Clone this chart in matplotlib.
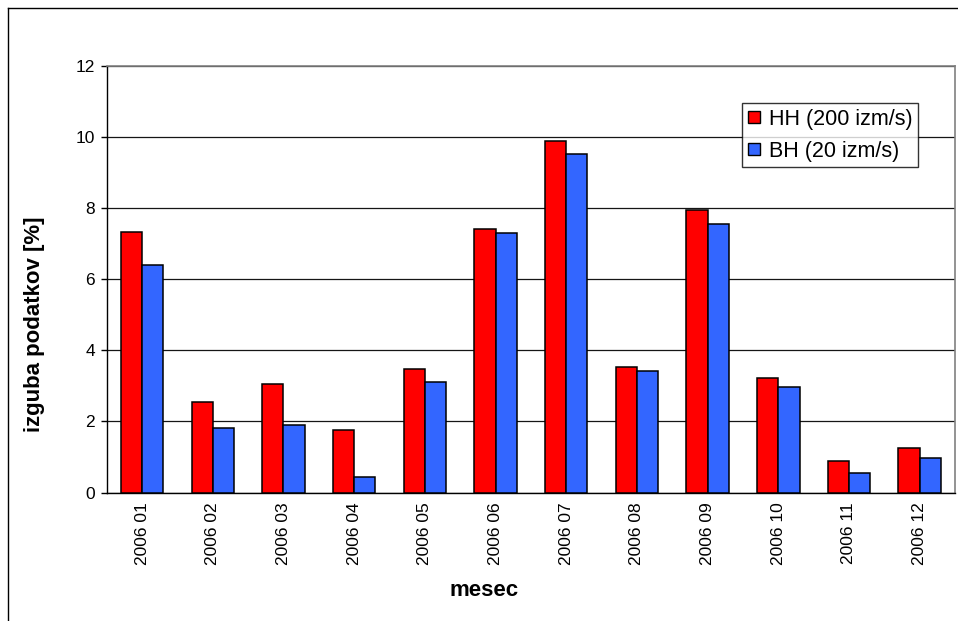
import matplotlib
matplotlib.use("Agg")
import matplotlib.pyplot as plt
import numpy as np
from matplotlib.lines import Line2D

months = ["2006 01", "2006 02", "2006 03", "2006 04", "2006 05", "2006 06",
          "2006 07", "2006 08", "2006 09", "2006 10", "2006 11", "2006 12"]
hh_loss = [7.32, 2.56, 3.06, 1.77, 3.48, 7.41, 9.88, 3.52, 7.95, 3.21, 0.90, 1.24]
bh_loss = [6.40, 1.82, 1.91, 0.45, 3.10, 7.31, 9.52, 3.42, 7.56, 2.97, 0.55, 0.96]
series_names = ["HH (200 izm/s)", "BH (20 izm/s)"]
series_colors = ['#FF0000', '#3366FF']
y_ticks = [0, 2, 4, 6, 8, 10, 12]

plt.rcParams['font.family'] = ['Liberation Sans', 'DejaVu Sans']

fig = plt.figure(figsize=(9.58, 6.21), dpi=100)
ax = fig.add_axes([0.1114, 0.2069, 0.8855, 0.6868])

x = np.arange(len(months))
w = 0.3
ax.bar(x - w / 2, hh_loss, w, color=series_colors[0], edgecolor='black', linewidth=1.1, zorder=3)
ax.bar(x + w / 2, bh_loss, w, color=series_colors[1], edgecolor='black', linewidth=1.1, zorder=3)

ax.set_xlim(-0.5, len(months) - 0.5)
ax.set_ylim(0, 12)
ax.set_yticks(y_ticks)
ax.set_xticks(x)
ax.set_xticklabels(months, rotation=90, fontsize=12.5)
ax.tick_params(axis='x', length=0, pad=7)
ax.tick_params(axis='y', length=4.5, width=1, pad=4, labelsize=12.5, direction='out')
ax.yaxis.grid(True, color='#151515', linewidth=0.9, zorder=0)
ax.set_axisbelow(True)

for side in ['top', 'right']:
    ax.spines[side].set_color('#808080')
    ax.spines[side].set_linewidth(1.2)
for side in ['left', 'bottom']:
    ax.spines[side].set_color('black')
    ax.spines[side].set_linewidth(1.0)

fig.text(0.5057, 0.0499, "mesec", ha='center', va='center', fontsize=16, fontweight='bold')
fig.text(0.0355, 0.478, "izguba podatkov [%]", ha='center', va='center', rotation=90,
         fontsize=16, fontweight='bold')

# small square swatches in the legend
handles = [Line2D([], [], linestyle='none', marker='s', markersize=8,
                  markerfacecolor=c, markeredgecolor='black', markeredgewidth=1.0)
           for c in series_colors]
leg = ax.legend(handles, series_names, loc='lower left',
                bbox_to_anchor=(742 / 958, 1 - 167 / 621),
                bbox_transform=fig.transFigure, fontsize=15.5, frameon=True,
                fancybox=False, handlelength=0.6, handletextpad=0.4,
                labelspacing=0.5, borderpad=0.25, borderaxespad=0)
leg.get_frame().set_edgecolor('black')
leg.get_frame().set_linewidth(1.0)

# chart border, left and top edges only
fig.add_artist(Line2D([8.3 / 958, 8.3 / 958], [0, 1 - 8 / 621], color='black', linewidth=1.0))
fig.add_artist(Line2D([8.3 / 958, 1], [1 - 8 / 621, 1 - 8 / 621], color='black', linewidth=1.0))

fig.savefig("out.png", dpi=100)
